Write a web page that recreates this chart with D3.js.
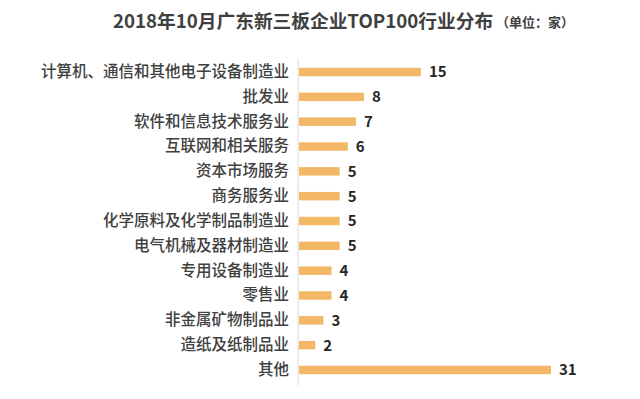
<!DOCTYPE html>
<html>
<head>
<meta charset="utf-8">
<script src="https://cdn.jsdelivr.net/npm/d3@7"></script>
<style>
  body { margin: 0; background: #fff; }
  text { font-family: "Noto Sans CJK SC", "Noto Sans", sans-serif; }
</style>
</head>
<body>
<div id="chart"></div>
<script>
// data
var industries = ["计算机、通信和其他电子设备制造业", "批发业", "软件和信息技术服务业", "互联网和相关服务",
  "资本市场服务", "商务服务业", "化学原料及化学制品制造业", "电气机械及器材制造业",
  "专用设备制造业", "零售业", "非金属矿物制品业", "造纸及纸制品业", "其他"];
var counts = [15, 8, 7, 6, 5, 5, 5, 5, 4, 4, 3, 2, 31];

var titleText = "2018年10月广东新三板企业TOP100行业分布";
var unitText = "（单位：家）";

// manually set margins
var margin = {left: 299},
    axisTop = 59.6,
    axisBottom = 382.4;

var svg = d3.select("#chart")
  .append("svg")
    .attr("width", 640)
    .attr("height", 399);

// title
svg.append("text")
    .attr("x", 113)
    .attr("y", 28)
    .attr("fill", "#404040")
    .style("font-size", "18.7px")
    .style("font-weight", "bold")
    .text(titleText);

svg.append("text")
    .attr("x", 496)
    .attr("y", 27)
    .attr("fill", "#404040")
    .style("font-size", "13px")
    .style("font-weight", "bold")
    .text(unitText);

var g = svg.append("g")
    .attr("transform", "translate(" + margin.left + ",0)");

// setup scales
var x = d3.scaleLinear()
    .domain([0, 31])
    .range([0, 252]);

var y = d3.scaleBand()
    .domain(industries)
    .range([axisTop, axisBottom])
    .paddingInner(0.66)
    .paddingOuter(0.33);

// category axis
var yAxis = d3.axisLeft(y).tickSize(0).tickPadding(10);
var yG = g.append("g").call(yAxis);
yG.select(".domain").attr("stroke", "#d9d9d9").attr("d", "M-1," + (axisTop - 1) + "V" + (axisBottom + 3));
yG.selectAll("text")
    .attr("fill", "#404040")
    .style("font-size", "15.5px")
    .style("font-family", "'Noto Sans CJK SC', sans-serif")
    .style("font-weight", "500");

// bars
g.selectAll(".bar")
    .data(counts)
  .enter().append("rect")
    .attr("class", "bar")
    .attr("x", 0)
    .attr("y", function(d, i) { return y(industries[i]); })
    .attr("width", function(d) { return x(d); })
    .attr("height", y.bandwidth())
    .attr("fill", "#f3b866");

// value labels
g.selectAll(".val")
    .data(counts)
  .enter().append("text")
    .attr("class", "val")
    .attr("x", function(d) { return x(d) + 8; })
    .attr("y", function(d, i) { return y(industries[i]) + y.bandwidth() / 2; })
    .attr("dy", "0.36em")
    .attr("fill", "#262626")
    .style("font-size", "15px")
    .style("font-weight", "bold")
    .text(function(d) { return d; });
</script>
</body>
</html>
